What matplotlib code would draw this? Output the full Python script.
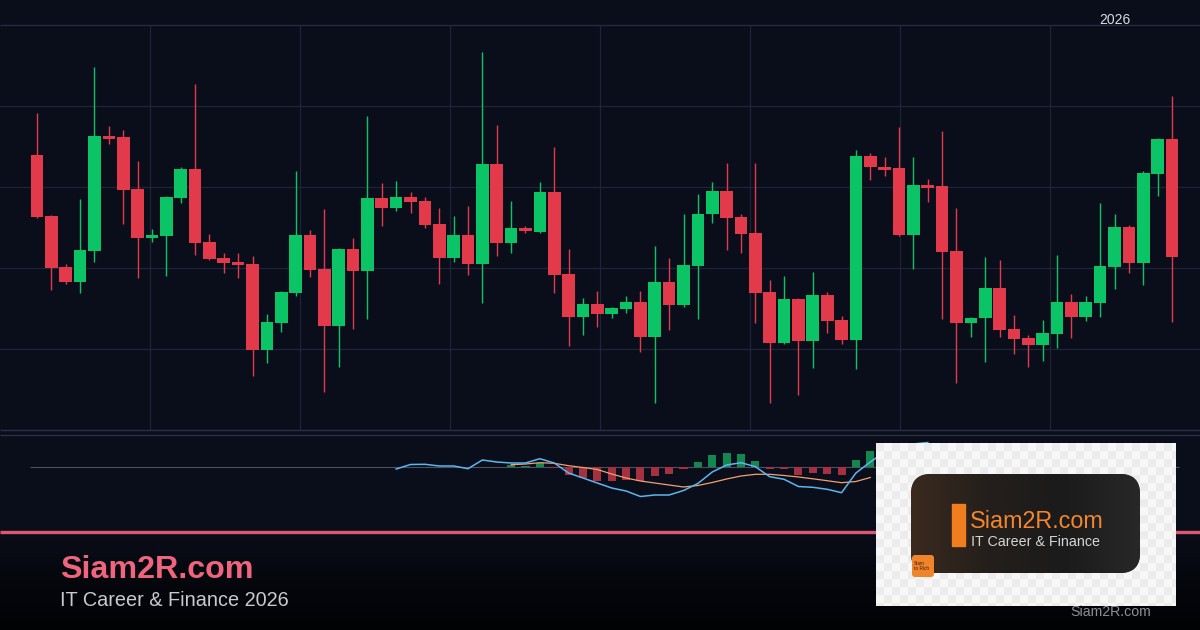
import numpy as np
import matplotlib
matplotlib.use("Agg")
import matplotlib.pyplot as plt
from matplotlib.patches import FancyBboxPatch, Rectangle
from matplotlib.colors import LinearSegmentedColormap

plt.rcParams['font.family'] = ['Liberation Sans', 'DejaVu Sans']

# ---------------- data ----------------
opens = [124.0, 116.4, 110.1, 108.3, 112.1, 126.3, 126.2, 119.8, 113.7, 114.0,
         118.6, 122.2, 113.2, 111.2, 110.7, 110.5, 99.9, 103.2, 106.9, 114.1,
         109.9, 102.8, 112.3, 109.6, 118.6, 117.4, 118.8, 118.3, 115.4, 111.2,
         114.1, 110.5, 122.8, 113.1, 114.9, 114.4, 119.4, 109.3, 104.0, 105.6,
         104.3, 104.9, 105.8, 101.5, 108.3, 105.4, 110.2, 116.7, 119.5, 116.3,
         114.3, 107.0, 100.7, 106.2, 101.0, 106.7, 103.6, 101.1, 123.8, 122.5,
         122.3, 114.1, 120.2, 120.1, 112.1, 103.2, 103.8, 107.5, 102.5, 101.4,
         100.5, 101.9, 105.8, 104.0, 105.7, 110.1, 115.1, 110.6, 121.6, 125.9]
closes = [116.3, 110.0, 108.3, 112.2, 126.3, 125.9, 119.6, 113.7, 114.1, 118.8,
          122.2, 113.1, 111.1, 110.6, 110.4, 99.9, 103.3, 107.0, 114.1, 109.8,
          102.8, 112.3, 109.6, 118.6, 117.4, 118.8, 118.1, 115.3, 111.2, 114.1,
          110.5, 122.8, 113.1, 114.9, 114.6, 119.4, 109.1, 104.0, 105.6, 104.3,
          105.1, 105.8, 101.5, 108.3, 105.4, 110.4, 116.7, 119.5, 116.2, 114.2,
          106.9, 100.7, 106.2, 101.0, 106.7, 103.5, 101.1, 123.8, 122.5, 122.1,
          114.1, 120.2, 119.9, 112.0, 103.2, 103.8, 107.5, 102.3, 101.2, 100.5,
          102.0, 105.8, 104.0, 105.8, 110.2, 115.1, 110.6, 121.7, 125.9, 111.4]
highs = [129.1, 116.5, 110.5, 118.5, 134.8, 127.5, 127.0, 123.2, 114.8, 118.9,
         122.5, 132.7, 114.2, 111.9, 111.9, 111.5, 104.3, 107.2, 122.0, 114.7,
         117.3, 112.5, 113.7, 128.8, 120.5, 120.7, 119.4, 118.8, 117.4, 116.4,
         117.7, 136.7, 127.7, 118.3, 115.2, 120.6, 124.9, 112.3, 106.3, 107.2,
         105.2, 106.5, 107.2, 112.7, 111.2, 116.7, 119.1, 120.6, 123.0, 116.7,
         123.0, 108.5, 109.0, 106.3, 109.5, 107.0, 104.1, 124.6, 124.2, 123.7,
         127.4, 123.7, 121.0, 126.9, 117.4, 103.9, 111.4, 111.0, 104.2, 101.7,
         103.6, 111.6, 106.8, 106.5, 118.0, 116.7, 115.3, 122.0, 126.0, 131.2]
lows = [116.2, 107.3, 108.0, 106.9, 110.7, 125.3, 115.4, 108.8, 113.2, 109.0,
        118.0, 111.6, 111.0, 109.4, 108.8, 96.7, 98.3, 102.1, 106.5, 108.9,
        94.7, 97.8, 102.5, 103.7, 115.2, 117.0, 116.8, 114.9, 108.0, 110.7,
        109.1, 105.7, 111.5, 111.9, 114.3, 114.3, 106.9, 100.4, 101.7, 102.7,
        103.8, 104.4, 99.6, 93.3, 102.3, 105.2, 103.7, 115.6, 112.2, 111.9,
        103.2, 93.3, 100.6, 94.3, 97.7, 102.0, 100.6, 97.5, 120.9, 121.4,
        114.0, 109.9, 118.1, 103.7, 95.8, 101.5, 98.4, 101.5, 99.4, 97.8,
        98.5, 100.1, 101.4, 103.5, 104.0, 107.4, 109.4, 107.9, 118.9, 103.3]

macd_start = 25
macd_line = [-0.2, 0.25, 0.27, 0.1, 0.1, -0.17, 0.7, 0.5, 0.4, 0.4, 0.83, 0.4,
             -0.6, -1.1, -1.6, -2.1, -2.4, -2.95, -2.8, -2.8, -2.35, -1.65, -0.5,
             0.2, 0.43, 0.03, -0.97, -1.23, -1.95, -2.03, -2.23, -2.57, -0.6, 0.5,
             1.5, 2.0, 2.3, 2.45]
signal_start = 33
signal_line = [0.23, 0.3, 0.43, 0.37, 0.13, -0.05, -0.25, -0.7, -1.1, -1.4, -1.6,
               -1.8, -2.0, -1.85, -1.55, -1.2, -0.9, -0.73, -0.73, -0.85, -1.0,
               -1.18, -1.37, -1.57, -1.45, -1.05]
hist_start = 33
hist_vals = [0.25, 0.15, 0.37, -0.05, -0.8, -1.13, -1.37, -1.37, -1.25, -1.37,
             -0.87, -0.7, -0.2, 0.5, 1.2, 1.4, 1.3, 0.6, -0.17, -0.23, -0.8,
             -0.63, -0.7, -0.8, 0.7, 1.6]

year_label = "2026"
brand = "Siam2R.com"
tagline = "IT Career & Finance 2026"
logo_tag = "IT Career & Finance"

# ---------------- style ----------------
BG = '#0a0e1b'
GRID = '#1f2536'
UP, DOWN = '#0bc466', '#e33a4b'
HUP, HDOWN = '#12884f', '#a3313f'
W, H = 1200, 630

fig = plt.figure(figsize=(12, 6.3), dpi=100)
fig.patch.set_facecolor(BG)

# background / decoration layer in pixel coords
bg = fig.add_axes([0, 0, 1, 1])
bg.set_xlim(0, W); bg.set_ylim(H, 0); bg.axis('off')
grad = np.linspace(0, 1, 200).reshape(-1, 1)
fcmap = LinearSegmentedColormap.from_list('f', ['#0a0d19', '#05070d', '#010203'])
bg.imshow(grad, extent=[0, W, H, 533], cmap=fcmap, aspect='auto', zorder=0,
          interpolation='bilinear')
bg.hlines([25], 0, W, color='#262c3d', lw=1.0, zorder=1)
bg.vlines(np.arange(150, 1051, 150), 25, 430, color=GRID, lw=0.9, zorder=1)
bg.hlines([430, 435], 0, W, color='#2a3142', lw=1.0, zorder=1)
bg.text(1115, 24, year_label, color='#d9dce4', fontsize=10, ha='center', va='baseline')

n = len(opens)
idx = np.arange(n)
x0 = -37 / 14.367
x1 = (W - 37) / 14.367

# price panel
ax = fig.add_axes([0, 200 / H, 1, 405 / H])
ax.set_facecolor('none')
ax.set_xlim(x0, x1); ax.set_ylim(90, 140)
ax.set_yticks([100, 110, 120, 130]); ax.set_xticks([])
ax.grid(axis='y', color=GRID, lw=0.9)
ax.tick_params(length=0, labelleft=False, labelbottom=False)
for s in ax.spines.values():
    s.set_visible(False)

o = np.array(opens); c = np.array(closes)
hi = np.array(highs); lo = np.array(lows)
cols = np.where(c >= o, UP, DOWN)
ax.vlines(idx, lo, hi, colors=cols, lw=1.0, zorder=2)
ax.bar(idx, np.abs(c - o), bottom=np.minimum(o, c), width=0.88, color=cols,
       linewidth=0, zorder=3)

# MACD panel
mx = fig.add_axes([0, (H - 527) / H, 1, 90 / H])
mx.set_facecolor('none')
mx.set_xlim(x0, x1); mx.set_ylim(-6, 3)
mx.axis('off')
mx.hlines(0, -0.5, n - 0.5, color='#4a5162', lw=0.8, zorder=1)
hv = np.array(hist_vals)
hx = np.arange(hist_start, hist_start + len(hv))
mx.bar(hx, hv, width=0.56, color=np.where(hv >= 0, HUP, HDOWN), linewidth=0, zorder=2)
mx.plot(np.arange(signal_start, signal_start + len(signal_line)), signal_line,
        color='#f2a070', lw=0.9, zorder=3)
mx.plot(np.arange(macd_start, macd_start + len(macd_line)), macd_line,
        color='#5cb6ee', lw=1.1, zorder=4)

# overlay: footer + logo
ov = fig.add_axes([0, 0, 1, 1])
ov.set_xlim(0, W); ov.set_ylim(H, 0); ov.axis('off'); ov.set_zorder(10)
ov.patch.set_alpha(0)
ov.hlines(531.7, 0, W, color='#d9596f', lw=2.4, zorder=1)
ov.text(60, 578, brand, color='#f0657d', fontsize=23.2, fontweight='bold',
        ha='left', va='baseline')
ov.text(60, 606.5, tagline, color='#c8cad0', fontsize=14.3, ha='left', va='baseline')

# logo card with checkerboard
lx0, lx1, ly0, ly1 = 876, 1176, 443, 606
nx, ny = int((lx1 - lx0) / 8) + 1, int((ly1 - ly0) / 8) + 1
checker = ((np.arange(ny)[:, None] + np.arange(nx)[None, :]) % 2) * 0.04 + 0.925
ov.imshow(checker, extent=[lx0, lx0 + nx * 8, ly0 + ny * 8, ly0], cmap='gray',
          vmin=0, vmax=1, interpolation='nearest', zorder=2, aspect='auto')
card_clip = Rectangle((lx0, ly0), lx1 - lx0, ly1 - ly0, transform=ov.transData)
ov.images[-1].set_clip_path(card_clip)

box = FancyBboxPatch((911, 474), 229, 99, boxstyle="round,pad=0,rounding_size=20",
                     facecolor='#201c1a', edgecolor='none', zorder=3)
ov.add_patch(box)
hg = np.linspace(0, 1, 200).reshape(1, -1)
bcmap = LinearSegmentedColormap.from_list('b', ['#3a2a1f', '#241f1b', '#1b1b1b', '#282828'])
im = ov.imshow(hg, extent=[911, 1140, 573, 474], cmap=bcmap, aspect='auto', zorder=4,
               interpolation='bilinear')
im.set_clip_path(box)
ov.add_patch(Rectangle((952, 504), 13, 42, color='#f07d1e', zorder=5))
ov.text(970, 528.5, brand, color='#f5862c', fontsize=16.8, ha='left', va='baseline', zorder=6)
ov.text(971, 546, logo_tag, color='#d6d6d6', fontsize=10.3, ha='left', va='baseline', zorder=6)
ov.add_patch(FancyBboxPatch((912, 555), 22, 22, boxstyle="round,pad=0,rounding_size=3",
                            facecolor='#f0842a', edgecolor='none', zorder=6))
ov.text(914, 566, "Siam\nto Rich", color='#3a2010', fontsize=3.4, ha='left', va='center',
        zorder=7, linespacing=1.1)
ov.text(1070, 616, brand, color='#8c8f97', fontsize=10.2, ha='left', va='baseline', zorder=7)

fig.savefig('out.png', dpi=100, facecolor=BG)
